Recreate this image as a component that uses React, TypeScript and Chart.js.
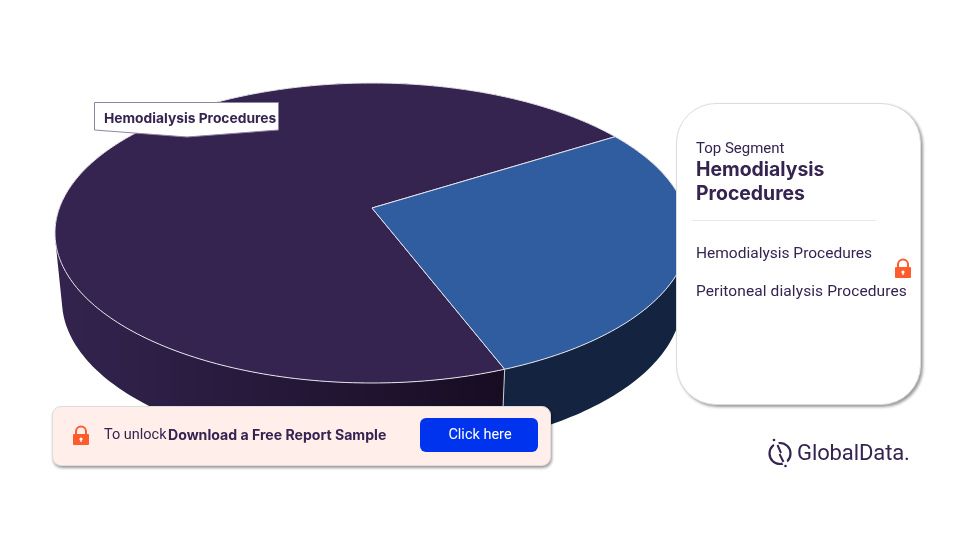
import React, { useEffect, useRef } from "react";
import { Chart, registerables } from "chart.js";

Chart.register(...registerables);

const categories = ["Hemodialysis Procedures", "Peritoneal dialysis Procedures"];
const shares = [71.9, 28.1];
const faceColors = ["#352350", "#2f5d9f"];
const wallFrom = ["#33244f", "#152644"];
const wallTo = ["#170c22", "#14233f"];

const FONT = "Roboto, 'Open Sans', sans-serif";
const BOLD = "Inter, Roboto, sans-serif";
const INK = "#352350";

// top face and bottom face of the 3D disc, as seen in perspective
const topFace = { ax: 372, ay: 208, c: 312.6, a: 145.83, k: 1 / 6 };
const botFace = { ax: 372, ay: 275, c: 305.7, a: 147.8, k: 1 / 6 };

type Face = typeof topFace;
const project = (f: Face, theta: number): [number, number] => {
  const u = Math.cos(theta);
  const v = -Math.sin(theta);
  const w = 1 + f.k * v;
  return [f.ax + (f.c * u) / w, f.ay - (f.a * v) / w];
};

const STEP = Math.PI / 180;

const disc3d = {
  id: "disc3d",
  beforeDatasetDraw(chart: any) {
    const { ctx } = chart;
    const arcs = chart.getDatasetMeta(0).data;
    ctx.save();
    // walls
    arcs.forEach((arc: any, i: number) => {
      const grad = ctx.createLinearGradient(55, 0, 505, 0);
      grad.addColorStop(0, wallFrom[i]);
      grad.addColorStop(1, wallTo[i]);
      ctx.fillStyle = grad;
      ctx.beginPath();
      for (let t = arc.startAngle; t < arc.endAngle; t += STEP) {
        const t2 = Math.min(t + STEP, arc.endAngle);
        const q = [project(topFace, t), project(topFace, t2), project(botFace, t2), project(botFace, t)];
        let area = 0;
        q.forEach((p, n) => {
          const r = q[(n + 1) % 4];
          area += p[0] * r[1] - r[0] * p[1];
        });
        if (area < 0) q.reverse();
        ctx.moveTo(q[0][0], q[0][1]);
        ctx.lineTo(q[1][0], q[1][1]);
        ctx.lineTo(q[2][0], q[2][1]);
        ctx.lineTo(q[3][0], q[3][1]);
        ctx.closePath();
      }
      ctx.fill("nonzero");
    });
    // wall seam at the front
    const seam = arcs[0].startAngle;
    const s1 = project(topFace, seam);
    const s2 = project(botFace, seam);
    ctx.strokeStyle = "#c9c9d2";
    ctx.lineWidth = 1;
    ctx.beginPath();
    ctx.moveTo(s1[0], s1[1]);
    ctx.lineTo(s2[0], s2[1]);
    ctx.stroke();
    // top faces
    arcs.forEach((arc: any, i: number) => {
      ctx.fillStyle = faceColors[i];
      ctx.strokeStyle = "#e4e2ea";
      ctx.lineWidth = 1;
      ctx.lineJoin = "round";
      ctx.beginPath();
      ctx.moveTo(topFace.ax, topFace.ay);
      for (let t = arc.startAngle; t < arc.endAngle; t += STEP) {
        const p = project(topFace, t);
        ctx.lineTo(p[0], p[1]);
      }
      const e = project(topFace, arc.endAngle);
      ctx.lineTo(e[0], e[1]);
      ctx.closePath();
      ctx.fill();
      ctx.stroke();
    });
    ctx.restore();
    return false;
  },
};

function Lock({ x, y }: { x: number; y: number }) {
  return (
    <svg style={{ position: "absolute", left: x, top: y }} width="18" height="21" viewBox="0 0 18 21">
      <path d="M4 10V6.5a5 5 0 0 1 10 0V10" fill="none" stroke="#ff5c2e" strokeWidth="2" />
      <rect x="1" y="9" width="16" height="11" rx="1" fill="#ff5c2e" />
      <circle cx="9" cy="14" r="1.6" fill="#fff" />
      <rect x="8.4" y="14" width="1.2" height="3" fill="#fff" />
    </svg>
  );
}

const abs = (o: React.CSSProperties): React.CSSProperties => ({ position: "absolute", whiteSpace: "nowrap", ...o });

export default function App() {
  const ref = useRef<HTMLCanvasElement>(null);
  useEffect(() => {
    const chart = new Chart(ref.current!, {
      type: "pie",
      data: {
        labels: categories,
        datasets: [{ data: shares, backgroundColor: faceColors }],
      },
      options: {
        animation: false,
        responsive: false,
        rotation: 159,
        plugins: { legend: { display: false }, tooltip: { enabled: false } },
      },
      plugins: [disc3d],
    });
    return () => chart.destroy();
  }, []);

  return (
    <div style={{ position: "fixed", left: 0, top: 0, width: 955, height: 537, background: "#fff", overflow: "hidden", fontFamily: FONT, color: INK }}>
      <canvas ref={ref} width={955} height={537} style={{ position: "absolute", left: 0, top: 0, width: 955, height: 537 }} />

      <svg style={{ position: "absolute", left: 0, top: 0 }} width="955" height="537">
        <polygon points="94.5,102.5 278.5,102.5 278.5,130 187,137 94.5,130" fill="#fff" stroke="#8f84a3" strokeWidth="1" />
      </svg>
      <div style={abs({ left: 104, top: 109, fontSize: 13.8, fontWeight: 700, lineHeight: "18px", fontFamily: BOLD })}>{categories[0]}</div>

      <div style={{ position: "absolute", left: 676, top: 103, width: 245, height: 301.5, boxSizing: "border-box", background: "#fff", border: "1px solid #dcdcdc", borderRadius: 40, boxShadow: "2px 2px 3px rgba(0,0,0,0.4)" }} />
      <div style={abs({ left: 696, top: 139, fontSize: 15, lineHeight: "18px" })}>Top Segment</div>
      <div style={abs({ left: 696, top: 157, fontSize: 19.4, fontWeight: 700, lineHeight: "24px", fontFamily: BOLD })}>
        Hemodialysis
        <br />
        Procedures
      </div>
      <div style={{ position: "absolute", left: 692, top: 220, width: 184, height: 1, background: "#e8e8e8" }} />
      <div style={abs({ left: 696, top: 243, fontSize: 15.5, lineHeight: "20px" })}>{categories[0]}</div>
      <div style={abs({ left: 696, top: 281, fontSize: 15.5, lineHeight: "20px", letterSpacing: 0.1 })}>{categories[1]}</div>
      <Lock x={894} y={258} />

      <div style={{ position: "absolute", left: 52, top: 406, width: 498.5, height: 60, boxSizing: "border-box", background: "#ffeeea", border: "1px solid #dfdcdc", borderRadius: 9, boxShadow: "1px 2px 3px rgba(0,0,0,0.4)" }} />
      <Lock x={72} y={425} />
      <div style={abs({ left: 104, top: 426, fontSize: 14.5, lineHeight: "18px" })}>To unlock</div>
      <div style={abs({ left: 168, top: 426, fontSize: 14.1, fontWeight: 700, lineHeight: "18px", fontFamily: BOLD })}>Download a Free Report Sample</div>
      <div style={{ position: "absolute", left: 420, top: 418, width: 118, height: 34, background: "#0033ee", borderRadius: 6, color: "#fff", fontSize: 14.5, lineHeight: "34px", textAlign: "center", textIndent: 2 }}>Click here</div>

      <svg style={{ position: "absolute", left: 766, top: 436 }} width="30" height="32" viewBox="0 0 30 32">
        <circle cx="14" cy="17.5" r="10.5" fill="none" stroke={INK} strokeWidth="2.2" />
        <line x1="7" y1="1" x2="21" y2="31" stroke="#fff" strokeWidth="5" />
        <path d="M11.5 9 L15 17 M13.5 18 L17.5 26" fill="none" stroke={INK} strokeWidth="2" />
        <circle cx="8" cy="4" r="1.3" fill={INK} />
        <circle cx="19.5" cy="30" r="1.3" fill={INK} />
      </svg>
      <div style={abs({ left: 797, top: 439, fontSize: 22, fontWeight: 400, lineHeight: "28px", letterSpacing: -0.1 })}>GlobalData.</div>
    </div>
  );
}
